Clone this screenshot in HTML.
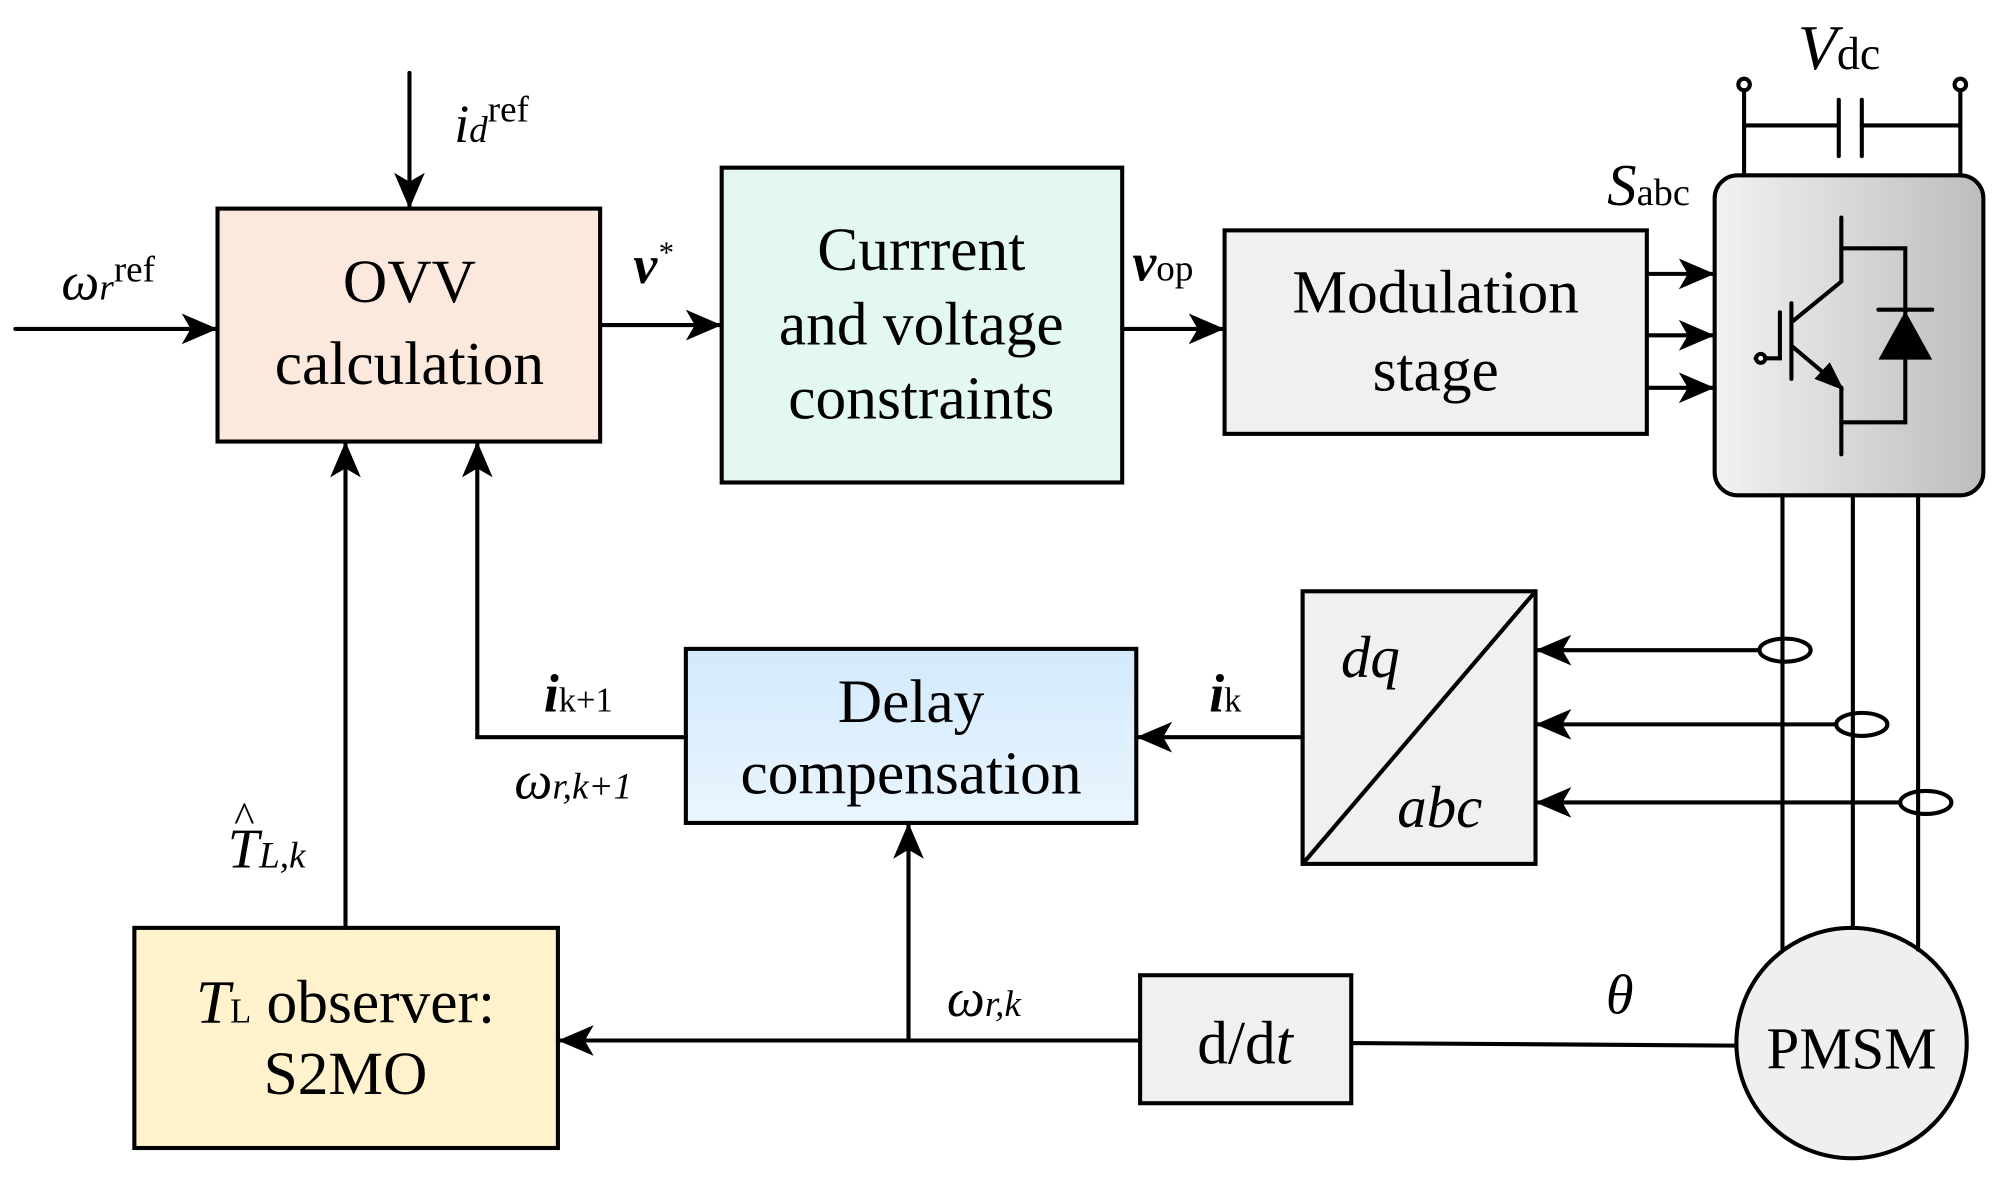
<!DOCTYPE html>
<html><head><meta charset="utf-8"><style>
html,body{margin:0;padding:0;background:#fff}
svg{display:block}
text{font-family:"Liberation Serif",serif;fill:#000}
</style></head><body>
<svg width="2000" height="1180" viewBox="0 0 1563 922" preserveAspectRatio="none" xmlns="http://www.w3.org/2000/svg">
<defs>
<linearGradient id="inv" x1="0" x2="1"><stop offset="0" stop-color="#f2f2f2"/><stop offset="1" stop-color="#bdbdbd"/></linearGradient>
<linearGradient id="dl" x1="0" y1="0" x2="0" y2="1"><stop offset="0" stop-color="#d2eafc"/><stop offset="1" stop-color="#eaf5fe"/></linearGradient>
<marker id="ar" markerWidth="30" markerHeight="24" refX="28" refY="12" orient="auto" markerUnits="userSpaceOnUse">
<path d="M0,0 L28,12 L0,24 L7,12 Z" fill="#000"/>
</marker>
</defs>
<g stroke="#000" stroke-width="3.2" fill="none" stroke-linecap="round">
<rect x="170" y="163" width="299" height="182" fill="#fbe9dd"/>
<rect x="564" y="131" width="313" height="246" fill="#e3f9ef"/>
<rect x="957" y="180" width="330" height="159" fill="#f0f0f0"/>
<rect x="536" y="507" width="352" height="136" fill="url(#dl)"/>
<rect x="1018" y="462" width="182" height="213" fill="#f0f0f0"/>
<line x1="1018" y1="675" x2="1200" y2="462"/>
<rect x="105" y="725" width="331" height="172" fill="#fff2cc"/>
<rect x="891" y="762" width="165" height="100" fill="#f0f0f0"/>
<rect x="1340" y="137" width="210" height="250" rx="18" fill="url(#inv)"/>
<circle cx="1447" cy="815" r="90" fill="#efeff1"/>
<line x1="12" y1="257" x2="170" y2="257" marker-end="url(#ar)"/>
<line x1="320" y1="57" x2="320" y2="163" marker-end="url(#ar)"/>
<line x1="469" y1="254" x2="564" y2="254" marker-end="url(#ar)"/>
<line x1="877" y1="257" x2="957" y2="257" marker-end="url(#ar)"/>
<line x1="1287" y1="214" x2="1340" y2="214" marker-end="url(#ar)"/>
<line x1="1287" y1="262" x2="1340" y2="262" marker-end="url(#ar)"/>
<line x1="1287" y1="303" x2="1340" y2="303" marker-end="url(#ar)"/>
<line x1="1375" y1="508" x2="1200" y2="508" marker-end="url(#ar)"/>
<line x1="1435" y1="566" x2="1200" y2="566" marker-end="url(#ar)"/>
<line x1="1485" y1="627" x2="1200" y2="627" marker-end="url(#ar)"/>
<line x1="1018" y1="576" x2="888" y2="576" marker-end="url(#ar)"/>
<polyline points="536,576 373,576 373,345" marker-end="url(#ar)"/>
<line x1="270" y1="725" x2="270" y2="345" marker-end="url(#ar)"/>
<line x1="1357" y1="817" x2="1056" y2="815"/>
<line x1="891" y1="813" x2="436" y2="813" marker-end="url(#ar)"/>
<line x1="710" y1="813" x2="710" y2="643" marker-end="url(#ar)"/>
<line x1="1393" y1="387" x2="1393" y2="743"/>
<line x1="1448" y1="387" x2="1448" y2="725"/>
<line x1="1499" y1="387" x2="1499" y2="742"/>
<ellipse cx="1395" cy="508" rx="20" ry="9"/>
<ellipse cx="1455" cy="566" rx="20" ry="9"/>
<ellipse cx="1505" cy="627" rx="20" ry="9"/>
<circle cx="1363" cy="66" r="4.5"/>
<circle cx="1532" cy="66" r="4.5"/>
<polyline points="1363,71 1363,137"/>
<polyline points="1532,71 1532,137"/>
<line x1="1363" y1="98" x2="1437" y2="98"/>
<line x1="1455" y1="98" x2="1532" y2="98"/>
<line x1="1437" y1="78" x2="1437" y2="122"/>
<line x1="1455" y1="78" x2="1455" y2="122"/>
<polyline points="1439,170 1439,220 1401,251"/>
<line x1="1400" y1="237" x2="1400" y2="296"/>
<polyline points="1372,280 1391,280 1391,244"/>
<circle cx="1376" cy="280" r="3.5" fill="#fff"/>
<line x1="1401" y1="271" x2="1439" y2="303"/>
<line x1="1439" y1="303" x2="1439" y2="355"/>
<polyline points="1439,194 1489,194 1489,330 1439,330"/>
<line x1="1468" y1="242" x2="1510" y2="242"/>
</g>
<path d="M1441,305 L1418,296 L1430,283 Z" fill="#000"/>
<path d="M1489,243 L1510,281 L1468,281 Z" fill="#000"/>
<g font-size="48" text-anchor="middle">
<text x="320" y="236">OVV</text>
<text x="320" y="300">calculation</text>
<text x="720" y="211">Currrent</text>
<text x="720" y="269">and voltage</text>
<text x="720" y="327">constraints</text>
<text x="1122" y="244">Modulation</text>
<text x="1122" y="305">stage</text>
<text x="712" y="564">Delay</text>
<text x="712" y="620">compensation</text>
<text x="270" y="799"><tspan font-style="italic">T</tspan><tspan font-size="27">L</tspan> observer:</text>
<text x="270" y="855">S2MO</text>
<text x="973" y="831">d/d<tspan font-style="italic">t</tspan></text>
<text x="1447" y="835" font-size="46">PMSM</text>
</g>
<g font-size="42">
<text x="48" y="234" font-style="italic">ω<tspan font-size="29">r</tspan><tspan font-style="normal" font-size="29" dy="-14">ref</tspan></text>
<text x="355" y="111" font-style="italic">i<tspan font-size="29">d</tspan><tspan font-style="normal" font-size="29" dy="-16">ref</tspan></text>
<text x="495" y="221" font-style="italic" font-weight="bold">v<tspan font-weight="normal" font-size="24" dy="-16">*</tspan></text>
<text x="885" y="219" font-style="italic" font-weight="bold">v<tspan font-style="normal" font-weight="normal" font-size="29">op</tspan></text>
<text x="1256" y="160" font-style="italic" font-size="46">S<tspan font-style="normal" font-size="30">abc</tspan></text>
<text x="1405" y="54" font-style="italic" font-size="50">V<tspan font-style="normal" font-size="36">dc</tspan></text>
<text x="1048" y="529" font-style="italic" font-size="46">dq</text>
<text x="1092" y="646" font-style="italic" font-size="46">abc</text>
<text x="945" y="556" font-style="italic" font-weight="bold">i<tspan font-style="normal" font-weight="normal" font-size="27">k</tspan></text>
<text x="425" y="556" font-style="italic" font-weight="bold">i<tspan font-style="normal" font-weight="normal" font-size="27">k+1</tspan></text>
<text x="402" y="624" font-style="italic">ω<tspan font-size="29">r,k+1</tspan></text>
<text x="740" y="794" font-style="italic">ω<tspan font-size="29">r,k</tspan></text>
<text x="1255" y="792" font-style="italic" font-size="44">θ</text>
<text x="178" y="678" font-style="italic" font-size="44">T<tspan font-size="29">L,k</tspan></text>
<text x="183" y="650" font-size="34">^</text>
</g>
</svg>
</body></html>
